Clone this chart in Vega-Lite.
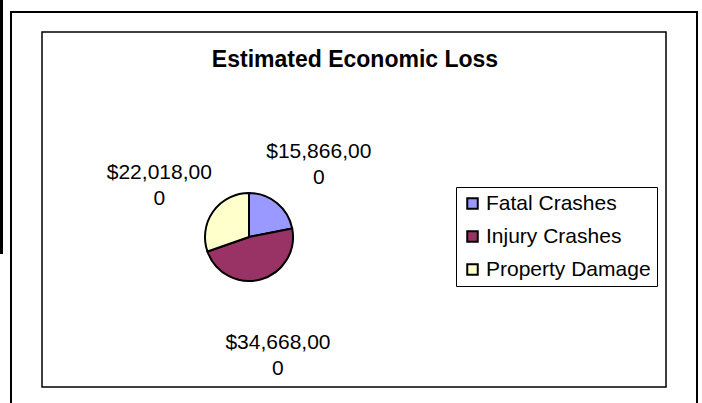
{
  "$schema": "https://vega.github.io/schema/vega-lite/v6.json",
  "width": 624,
  "height": 355,
  "autosize": {"type": "none"},
  "padding": {"left": 42, "top": 32, "right": 36, "bottom": 16},
  "background": "white",
  "view": {"stroke": "black", "strokeWidth": 1.5, "fill": "white"},
  "config": {
    "view": {"stroke": "black", "strokeWidth": 1.5},
    "font": "Liberation Sans"
  },
  "title": {
    "text": "Estimated Economic Loss",
    "fontSize": 23,
    "fontWeight": "bold",
    "font": "Liberation Sans",
    "color": "black",
    "anchor": "middle",
    "baseline": "alphabetic",
    "offset": -90,
    "dx": 1
  },
  "data": {
    "values": [
      {"category": "Fatal Crashes", "loss": 15866000, "label": "$15,866,00\n0"},
      {"category": "Injury Crashes", "loss": 34668000, "label": "$34,668,00\n0"},
      {"category": "Property Damage", "loss": 22018000, "label": "$22,018,00\n0"}
    ]
  },
  "layer": [
    {
      "data": {"values": [{}]},
      "mark": {"type": "rect", "x": -31, "x2": 655, "y": -20, "y2": 420, "fill": null, "stroke": "black", "strokeWidth": 2},
      "encoding": {}
    },
    {
      "data": {"values": [{}]},
      "mark": {"type": "rect", "x": -42, "x2": -39, "y": -32, "y2": 222, "fill": "black"},
      "encoding": {}
    },
    {
      "mark": {"type": "arc", "radius": 44, "stroke": "black", "strokeWidth": 2, "x": 207, "y": 205},
      "encoding": {
        "theta": {"field": "loss", "type": "quantitative", "stack": true},
        "order": {"field": "category", "sort": "ascending"},
        "color": {
          "field": "category",
          "type": "nominal",
          "scale": {
            "domain": ["Fatal Crashes", "Injury Crashes", "Property Damage"],
            "range": ["#9999FF", "#993366", "#FFFFCC"]
          },
          "legend": {
            "title": null,
            "orient": "none",
            "legendX": 414,
            "legendY": 155,
            "strokeColor": "black",
            "fillColor": "white",
            "padding": 6,
            "symbolType": "square",
            "symbolSize": 110,
            "symbolStrokeColor": "black",
            "symbolStrokeWidth": 2,
            "labelFontSize": 21,
            "labelFont": "Liberation Sans",
            "labelColor": "black",
            "labelLimit": 400,
            "rowPadding": 11,
            "labelOffset": 3
          }
        }
      }
    },
    {
      "mark": {"type": "text", "radius": 110, "x": 207, "y": 205, "fontSize": 21, "font": "Liberation Sans", "color": "black", "lineBreak": "\n", "lineHeight": 26, "align": "center", "baseline": "middle"},
      "encoding": {
        "theta": {"field": "loss", "type": "quantitative", "stack": true},
        "order": {"field": "category", "sort": "ascending"},
        "text": {"field": "label"}
      }
    }
  ]
}
